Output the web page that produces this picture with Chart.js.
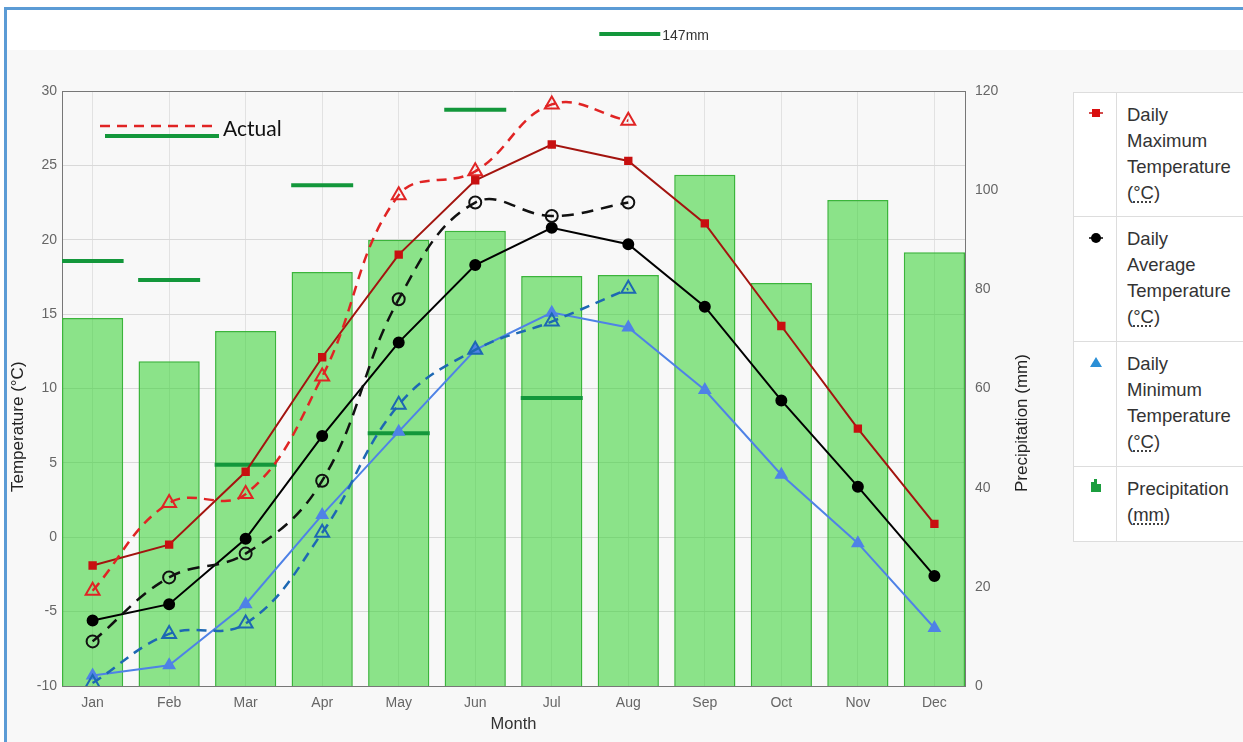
<!DOCTYPE html>
<html>
<head>
<meta charset="utf-8">
<script src="https://cdn.jsdelivr.net/npm/chart.js@4.4.1/dist/chart.umd.min.js"></script>
<style>
  html, body { margin:0; padding:0; width:1243px; height:742px; overflow:hidden; background:#fff; }
  #frame { position:absolute; left:4px; top:7px; width:1239px; height:735px; border-left:3px solid #5b9bd5; border-top:3px solid #5b9bd5; box-sizing:border-box; background:#f8f8f8; }
  #topband { position:absolute; left:7px; top:10px; width:1236px; height:40px; background:#fff; }
  #wrap { position:absolute; left:0; top:0; width:1243px; height:742px; }
  #legend { position:absolute; left:1073px; top:92px; width:200px; background:#fff; border:1px solid #ddd; font-family:"Liberation Sans", Arial, sans-serif; font-size:18.5px; color:#333; }
  .row { display:flex; border-bottom:1px solid #ddd; box-sizing:border-box; }
  .row:last-child { border-bottom:none; }
  .ic { width:42px; border-right:1px solid #ddd; position:relative; flex:none; }
  .tx { padding:9px 0 0 10px; line-height:26px; white-space:nowrap; }
  abbr { text-decoration:underline dotted; text-underline-offset:3px; }
</style>
</head>
<body>
<div id="frame"></div>
<div id="topband"></div>
<div id="wrap"><canvas id="c" width="1243" height="742"></canvas></div>
<div id="legend">
  <div class="row" style="height:124px"><div class="ic"><svg width="42" height="40"><line x1="15" y1="20" x2="29" y2="20" stroke="#c41010" stroke-width="1.5"/><rect x="18" y="16" width="8" height="8" fill="#d90f0f"/></svg></div><div class="tx">Daily<br>Maximum<br>Temperature<br>(<abbr>°C</abbr>)</div></div>
  <div class="row" style="height:125px"><div class="ic"><svg width="42" height="40"><line x1="15" y1="21" x2="29" y2="21" stroke="#000" stroke-width="1.5"/><circle cx="22" cy="21" r="5" fill="#000"/></svg></div><div class="tx">Daily<br>Average<br>Temperature<br>(<abbr>°C</abbr>)</div></div>
  <div class="row" style="height:125px"><div class="ic"><svg width="42" height="40"><polygon points="22,15 28,25 16,25" fill="#2b8fd6"/></svg></div><div class="tx">Daily<br>Minimum<br>Temperature<br>(<abbr>°C</abbr>)</div></div>
  <div class="row" style="height:74px"><div class="ic"><svg width="42" height="40"><rect x="17" y="15" width="3" height="10" fill="#1b9e3e"/><rect x="20" y="12" width="3" height="13" fill="#1b9e3e"/><rect x="23" y="17" width="4" height="8" fill="#1b9e3e"/></svg></div><div class="tx">Precipitation<br>(<abbr>mm</abbr>)</div></div>
</div>
<script>
const months = ["Jan","Feb","Mar","Apr","May","Jun","Jul","Aug","Sep","Oct","Nov","Dec"];
const maxTemp = [-1.9, -0.5, 4.4, 12.1, 19.0, 24.0, 26.4, 25.3, 21.1, 14.2, 7.3, 0.9];
const avgTemp = [-5.6, -4.5, -0.1, 6.8, 13.1, 18.3, 20.8, 19.7, 15.5, 9.2, 3.4, -2.6];
const minTemp = [-9.3, -8.6, -4.5, 1.5, 7.1, 12.6, 15.1, 14.1, 9.9, 4.2, -0.4, -6.1];
const precip = [74.2, 65.5, 71.6, 83.5, 90.0, 91.8, 82.7, 82.9, 103.1, 81.3, 98.0, 87.5];
const actualMax = [-3.6, 2.3, 2.9, 10.8, 23.0, 24.6, 29.1, 28.0, null, null, null, null];
const actualAvg = [-7.0, -2.7, -1.1, 3.8, 16.0, 22.5, 21.6, 22.5, null, null, null, null];
const actualMin = [-9.8, -6.5, -5.8, 0.3, 8.9, 12.6, 14.5, 16.7, null, null, null, null];
const actualPrecip = [85.7, 81.9, 44.6, 101.0, 51.0, 116.2, 58.1, 147, null, null, null, null];
const tempTicks = [-10, 30, 5];
const precipTicks = [0, 120, 20];

const pts = arr => arr.map((v, i) => v === null ? null : { x: i, y: v }).filter(p => p);
const FONT = '"Liberation Sans", Arial, sans-serif';

const frameBox = {
  id: 'frameBox',
  afterDraw(chart) {
    const { ctx, chartArea: a } = chart;
    ctx.save();
    ctx.strokeStyle = '#777';
    ctx.lineWidth = 1;
    ctx.beginPath();
    ctx.moveTo(a.left, a.top + 0.5);
    ctx.lineTo(a.right, a.top + 0.5);
    ctx.stroke();
    // axis titles (reading bottom-to-top on both sides)
    ctx.fillStyle = '#222';
    ctx.font = '17px ' + FONT;
    ctx.textAlign = 'left';
    ctx.textBaseline = 'middle';
    [['Temperature (°C)', 18], ['Precipitation (mm)', 1022]].forEach(([t, x]) => {
      ctx.save();
      ctx.translate(x, 492);
      ctx.rotate(-Math.PI / 2);
      ctx.fillText(t, 0, 0);
      ctx.restore();
    });
    ctx.restore();
  }
};

const annot = {
  id: 'annot',
  afterDatasetsDraw(chart) {
    const { ctx, chartArea: a, scales } = chart;
    ctx.save();
    ctx.strokeStyle = '#e02424';
    ctx.lineWidth = 2.5;
    ctx.setLineDash([10, 7]);
    ctx.beginPath();
    ctx.moveTo(a.left + 38, a.top + 35);
    ctx.lineTo(a.left + 156, a.top + 35);
    ctx.stroke();
    ctx.setLineDash([]);
    ctx.strokeStyle = '#13973b';
    ctx.lineWidth = 4;
    ctx.beginPath();
    ctx.moveTo(a.left + 43, a.top + 45);
    ctx.lineTo(a.left + 157, a.top + 45);
    ctx.stroke();
    ctx.fillStyle = '#111';
    ctx.font = '21px Lato, "Open Sans", sans-serif';
    ctx.textBaseline = 'middle';
    ctx.fillText('Actual', a.left + 161, a.top + 38);
    const y1 = scales.y1, x = scales.x;
    actualPrecip.forEach((v, i) => {
      if (v !== null && v > y1.max) {
        const px = x.getPixelForValue(i);
        ctx.strokeStyle = '#13973b';
        ctx.lineWidth = 4;
        ctx.beginPath();
        ctx.moveTo(px - 29, 34);
        ctx.lineTo(px + 32, 34);
        ctx.stroke();
        ctx.fillStyle = '#333';
        ctx.font = '14px "Liberation Sans Narrow", "Liberation Sans", sans-serif';
        ctx.textBaseline = 'middle';
        ctx.fillText(v + 'mm', px + 34, 36);
      }
    });
    ctx.restore();
  }
};

new Chart(document.getElementById('c'), {
  type: 'bar',
  data: {
    datasets: [
      { type: 'line', label: 'Actual Max', data: pts(actualMax), yAxisID: 'y', order: 1,
        borderColor: '#e02424', borderWidth: 2.5, borderDash: [10, 7], tension: 0.4,
        pointStyle: 'triangle', pointRadius: 8, pointBorderWidth: 2, pointBorderColor: '#e02424', pointBackgroundColor: 'rgba(0,0,0,0)' },
      { type: 'line', label: 'Actual Avg', data: pts(actualAvg), yAxisID: 'y', order: 1,
        borderColor: '#111', borderWidth: 2.5, borderDash: [12, 8], tension: 0.4,
        pointStyle: 'circle', pointRadius: 6, pointBorderWidth: 2, pointBorderColor: '#111', pointBackgroundColor: 'rgba(0,0,0,0)' },
      { type: 'line', label: 'Actual Min', data: pts(actualMin), yAxisID: 'y', order: 1,
        borderColor: '#1d68b3', borderWidth: 2.5, borderDash: [10, 7], tension: 0.4,
        pointStyle: 'triangle', pointRadius: 8, pointBorderWidth: 2, pointBorderColor: '#1d68b3', pointBackgroundColor: 'rgba(0,0,0,0)' },
      { type: 'line', label: 'Daily Maximum Temperature (°C)', data: pts(maxTemp), yAxisID: 'y', order: 2,
        borderColor: '#a3140f', borderWidth: 2, tension: 0,
        pointStyle: 'rect', pointRadius: 4.5, pointBackgroundColor: '#c81010', pointBorderColor: '#c81010' },
      { type: 'line', label: 'Daily Average Temperature (°C)', data: pts(avgTemp), yAxisID: 'y', order: 2,
        borderColor: '#000', borderWidth: 2, tension: 0,
        pointStyle: 'circle', pointRadius: 5, pointBackgroundColor: '#000', pointBorderColor: '#000' },
      { type: 'line', label: 'Daily Minimum Temperature (°C)', data: pts(minTemp), yAxisID: 'y', order: 2,
        borderColor: '#4f82e6', borderWidth: 2, tension: 0,
        pointStyle: 'triangle', pointRadius: 6, pointBackgroundColor: '#4f82e6', pointBorderColor: '#4f82e6' },
      { type: 'line', label: 'Actual Precipitation', data: pts(actualPrecip), yAxisID: 'y1', order: 3,
        showLine: false, pointStyle: 'line', pointRadius: 31, pointBorderWidth: 4, pointBorderColor: '#13973b', borderColor: '#13973b' },
      { type: 'bar', label: 'Precipitation (mm)', data: pts(precip), yAxisID: 'y1', order: 10,
        backgroundColor: 'rgba(50,210,45,0.55)', borderColor: '#3bb53b', borderWidth: 1.5,
        barPercentage: 0.8, categoryPercentage: 1 }
    ]
  },
  options: {
    responsive: false,
    animation: false,
    layout: { padding: { left: 8, right: 208, top: 91, bottom: 4 } },
    plugins: { legend: { display: false }, tooltip: { enabled: false } },
    scales: {
      x: {
        type: 'linear', min: -0.4, max: 11.4, offset: false,
        afterFit(s) { s.height = 52; },
        grid: { color: '#e2e2e2', drawTicks: false, offset: false },
        border: { display: true, color: '#777' },
        ticks: { stepSize: 1, includeBounds: false, padding: 9, color: '#666',
          font: { family: FONT, size: 14 },
          callback: v => Number.isInteger(v) ? months[v] : '' },
        title: { display: true, text: 'Month', color: '#333', padding: { top: 2, bottom: 4 },
          font: { family: FONT, size: 16.5 } }
      },
      y: {
        position: 'left', min: tempTicks[0], max: tempTicks[1],
        afterFit(s) { s.width = 54; },
        grid: { color: '#d9d9d9', drawTicks: false },
        border: { display: true, color: '#777' },
        ticks: { stepSize: tempTicks[2], padding: 5, color: '#666', font: { family: FONT, size: 14 } },
        title: { display: false }
      },
      y1: {
        position: 'right', min: precipTicks[0], max: precipTicks[1],
        afterFit(s) { s.width = 70; },
        grid: { display: false, drawTicks: false },
        border: { display: true, color: '#777' },
        ticks: { stepSize: precipTicks[2], padding: 10, color: '#666', font: { family: FONT, size: 14 } },
        title: { display: false }
      }
    }
  },
  plugins: [frameBox, annot]
});
</script>
</body>
</html>
